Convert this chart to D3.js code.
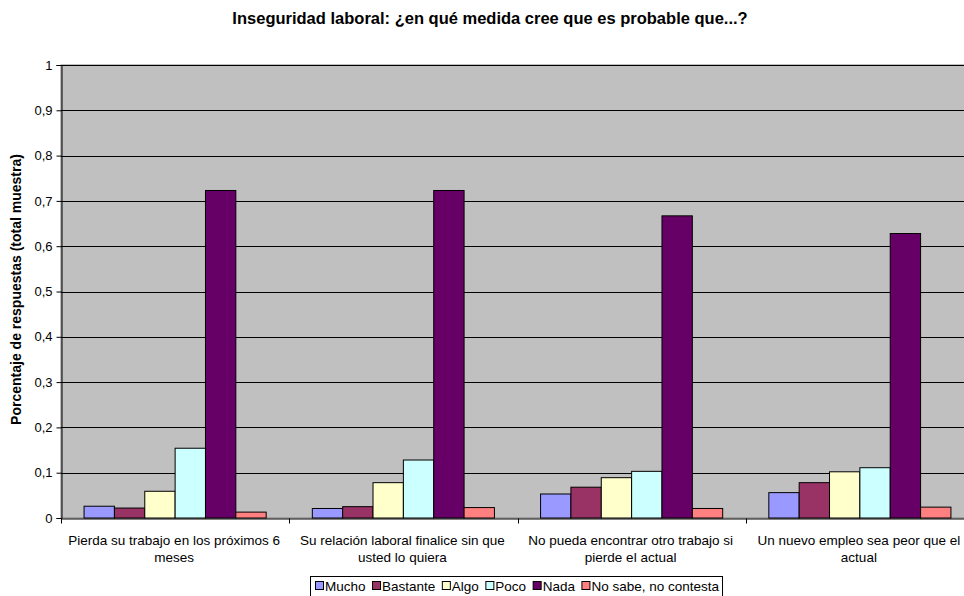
<!DOCTYPE html>
<html><head><meta charset="utf-8">
<script src="https://cdn.jsdelivr.net/npm/d3@7"></script>
<style>body{margin:0;background:#fff}svg{display:block}text{font-family:"Liberation Sans",Arial,sans-serif}</style>
</head><body><svg id="c" width="964" height="596"></svg>
<script>
const categories = [
  ["Pierda su trabajo en los próximos 6", "meses"],
  ["Su relación laboral finalice sin que", "usted lo quiera"],
  ["No pueda encontrar otro trabajo si", "pierde el actual"],
  ["Un nuevo empleo sea peor que el", "actual"]
];
const seriesNames = ["Mucho", "Bastante", "Algo", "Poco", "Nada", "No sabe, no contesta"];
const seriesColors = ["#9999FF", "#993366", "#FFFFCC", "#CCFFFF", "#660066", "#FF8080"];
const mucho    = [0.026, 0.021, 0.053, 0.056];
const bastante = [0.022, 0.025, 0.068, 0.078];
const algo     = [0.059, 0.078, 0.089, 0.102];
const poco     = [0.154, 0.128, 0.103, 0.111];
const nada     = [0.723, 0.723, 0.667, 0.628];
const nsnc     = [0.013, 0.023, 0.021, 0.024];
const yTicks = [0, 0.1, 0.2, 0.3, 0.4, 0.5, 0.6, 0.7, 0.8, 0.9, 1];
const title = "Inseguridad laboral: ¿en qué medida cree que es probable que...?";
const yTitle = "Porcentaje de respuestas (total muestra)";

const values = [mucho, bastante, algo, poco, nada, nsnc];
const svg = d3.select("#c");
const L = 61, R = 974, T = 65, B = 518;
const catIdx = d3.range(categories.length);
const x0 = d3.scaleBand().domain(catIdx).range([L, R]).padding(0);
const x1 = d3.scaleBand().domain(d3.range(seriesNames.length)).range([0, x0.bandwidth()]).paddingInner(0).paddingOuter(0.76);
const y = d3.scaleLinear().domain([0, 1]).range([B, T]);
const fmt = v => String(v).replace(".", ",");

svg.append("rect").attr("x", L).attr("y", T).attr("width", R - L).attr("height", B - T).attr("fill", "#C0C0C0").attr("stroke", "#808080");

svg.append("g").selectAll("line").data(yTicks.slice(1)).join("line")
  .attr("x1", L).attr("x2", R).attr("y1", d => Math.round(y(d)) + 0.5).attr("y2", d => Math.round(y(d)) + 0.5)
  .attr("stroke", "#000").attr("stroke-width", 1);

// bars
const g = svg.append("g");
values.forEach((vals, s) => {
  g.selectAll(null).data(vals).join("rect")
    .attr("x", (d, i) => x0(i) + x1(s))
    .attr("y", d => y(d))
    .attr("width", x1.bandwidth())
    .attr("height", d => B - y(d))
    .attr("fill", seriesColors[s]).attr("stroke", "#000").attr("stroke-width", 1);
});

// y axis
const yAxis = d3.axisLeft(y).tickValues(yTicks).tickFormat(fmt).tickSize(5).tickPadding(4);
const ya = svg.append("g").attr("transform", `translate(${L + 0.5},0)`).call(yAxis);
ya.select(".domain").attr("stroke", "#000");
ya.selectAll("text").attr("font-size", 13).attr("fill", "#000").style("font-family", '"Liberation Sans",Arial,sans-serif');

// x axis
const xa = svg.append("g").attr("transform", `translate(0,${B + 0.5})`)
  .call(d3.axisBottom(x0).tickValues([]).tickSizeOuter(0));
xa.select(".domain").attr("stroke", "#000");
xa.selectAll(null).data(d3.range(categories.length + 1)).join("line")
  .attr("x1", i => Math.round(L + i * x0.step()) + 0.5).attr("x2", i => Math.round(L + i * x0.step()) + 0.5)
  .attr("y1", 0).attr("y2", 5).attr("stroke", "#000");
const xl = svg.append("g");
categories.forEach((lines, i) => {
  const cx = x0(i) + x0.bandwidth() / 2 - 1;
  const t = xl.append("text").attr("x", cx).attr("y", 545)
    .attr("text-anchor", "middle").attr("font-size", 13.5).attr("fill", "#000");
  lines.forEach((ln, k) => t.append("tspan").attr("x", cx).attr("dy", k ? 17 : 0).text(ln));
});

// title
svg.append("text").attr("x", 490).attr("y", 24).attr("text-anchor", "middle")
  .attr("font-size", 16.5).attr("font-weight", "bold").text(title);
svg.append("text").attr("transform", `translate(21,${(T + B) / 2 - 2}) rotate(-90)`).attr("text-anchor", "middle")
  .attr("font-size", 14).attr("font-weight", "bold").text(yTitle);

// legend
const lg = svg.append("g");
const lgBox = lg.append("rect").attr("fill", "#fff").attr("stroke", "#000");
const lgItems = lg.append("g");
let lx = 0;
const ly = 586;
seriesNames.forEach((n, s) => {
  lgItems.append("rect").attr("x", lx + 0.5).attr("y", ly - 4.5).attr("width", 8).attr("height", 8)
    .attr("fill", seriesColors[s]).attr("stroke", "#000");
  const t = lgItems.append("text").attr("x", lx + 10).attr("y", ly + 5).attr("font-size", 13.5).text(n);
  lx += 10 + t.node().getComputedTextLength() + (s < seriesNames.length - 1 ? 6.5 : 0);
});
const lgLeft = Math.round((L + R) / 2 - lx / 2);
lgItems.attr("transform", `translate(${lgLeft},0)`);
lgBox.attr("x", lgLeft - 4.5).attr("y", ly - 9.5).attr("width", lx + 8).attr("height", 20);
</script></body></html>
